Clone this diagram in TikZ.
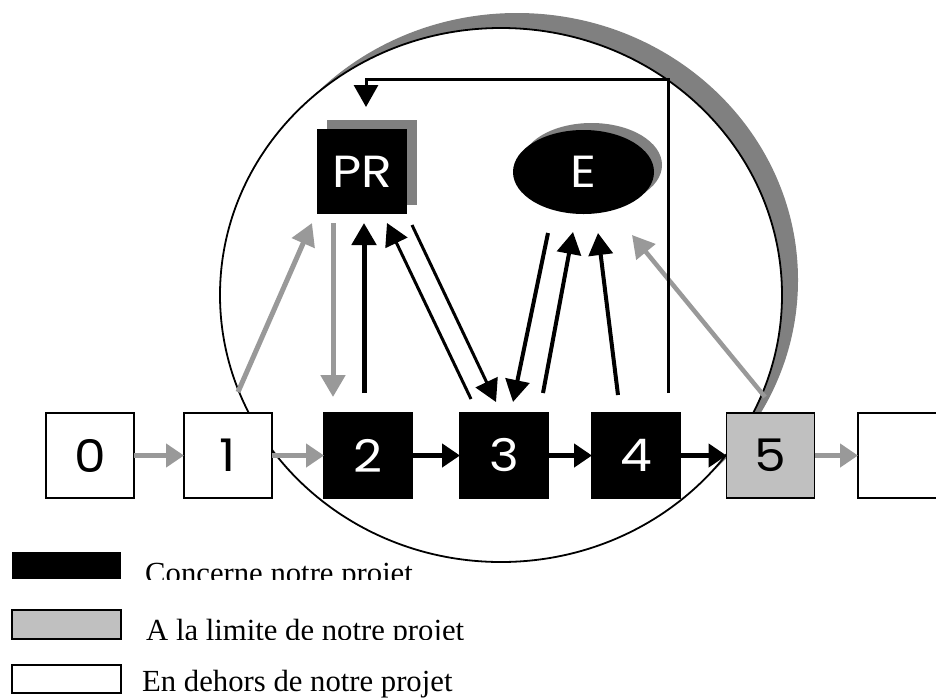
\documentclass[tikz,border=0pt]{standalone}
\usepackage{fontspec}
\usepackage{graphicx}
\setmainfont{Liberation Serif}
\newfontfamily\boxfont{Poppins}
\newcommand\widetxt[1]{\scalebox{1.12}[1]{#1}}
\usetikzlibrary{arrows.meta,shapes.geometric}
\definecolor{shad}{HTML}{808080}
\definecolor{limc}{HTML}{C0C0C0}
\definecolor{garr}{HTML}{999999}
\tikzset{
  boxfnt/.style={font=\boxfont\fontsize{45}{46}\selectfont},
  stepbox/.style={draw=black, line width=1.2pt, minimum width=88pt, minimum height=85pt,
    inner sep=0pt, outer sep=0pt, boxfnt},
  inbox/.style={stepbox, fill=black, text=white},
  limbox/.style={stepbox, fill=limc},
  outbox/.style={stepbox, fill=white},
  rowg/.style={draw=garr, line width=5pt, -{Triangle[length=18pt,width=23pt]}},
  rowb/.style={rowg, draw=black},
  bigg/.style={draw=garr, line width=5pt, -{Triangle[length=22pt,width=24pt]}},
  bigb/.style={bigg, draw=black},
  midb/.style={draw=black, line width=4pt, -{Triangle[length=22pt,width=24pt]}},
  thinb/.style={draw=black, line width=3pt, -{Triangle[length=22pt,width=24pt]}},
  legbox/.style={line width=1.2pt, minimum width=109pt, minimum height=28pt, inner sep=0pt, outer sep=0pt},
  legtext/.style={anchor=base west, inner sep=0pt, font=\fontsize{30.7}{32}\selectfont}
}
\begin{document}
\begin{tikzpicture}[x=1pt,y=-1pt]
\clip (0,0) rectangle (936,697);
\fill[white] (0,0) rectangle (936,697);
% big zone with shadow
\node[ellipse, fill=shad, minimum width=562pt, minimum height=534pt, inner sep=0pt] (zoneshadow) at (517,280) {};
\node[ellipse, draw=black, line width=1.8pt, fill=white, minimum width=562pt, minimum height=534pt, inner sep=0pt] (zone) at (501,295) {};
% PR
\node[fill=shad, minimum width=90pt, minimum height=85pt, inner sep=0pt] (PRs) at (372,162.5) {};
\node[fill=black, text=white, minimum width=90pt, minimum height=85pt, inner sep=0pt, outer sep=0pt,
  boxfnt] (PR) at (362,171.5) {\widetxt{PR}};
% E
\node[ellipse, fill=shad, minimum width=141pt, minimum height=84pt, inner sep=0pt] (Es) at (591.5,165) {};
\node[ellipse, fill=black, text=white, minimum width=141pt, minimum height=84pt, inner sep=0pt, outer sep=0pt,
  boxfnt] (E) at (583.5,172) {\widetxt{E}};
% row of boxes
\node[outbox] (b0) at (90,455.5) {\widetxt{0}};
\node[outbox] (b1) at (228,455.5) {\widetxt{1}};
\node[inbox] (b2) at (368,455.5) {\widetxt{2}};
\node[inbox] (b3) at (504,455.5) {\widetxt{3}};
\node[inbox] (b4) at (636,455.5) {\widetxt{4}};
\node[limbox] (b5) at (770.5,455.5) {\widetxt{5}};
\node[outbox] (b6) at (902,455.5) {};
% row arrows
\draw[rowg] (b0.east) -- (b1.west);
\draw[rowg] (b1.east) -- (b2.west);
\draw[rowb] (b2.east) -- (b3.west);
\draw[rowb] (b3.east) -- (b4.west);
\draw[rowb] (b4.east) -- (b5.west);
\draw[rowg] (b5.east) -- (b6.west);
% arrows to/from PR
\draw[bigg] ([xshift=10pt,yshift=21pt]b1.north) -- ([xshift=-50pt,yshift=-9pt]PR.south);
\draw[bigg] ([xshift=-29pt,yshift=-9pt]PR.south) -- ([xshift=-35pt,yshift=16pt]b2.north);
\draw[bigb] ([xshift=-4pt,yshift=20pt]b2.north) -- ([xshift=2pt,yshift=-9pt]PR.south);
\draw[thinb] ([xshift=-33pt,yshift=14pt]b3.north) -- ([xshift=25pt,yshift=-9pt]PR.south);
\draw[thinb] ([xshift=50pt,yshift=-11pt]PR.south) -- ([xshift=-8pt,yshift=11pt]b3.north);
% arrows to/from E
\draw[midb] ([xshift=-35.5pt,yshift=-19pt]E.south) -- ([xshift=9pt,yshift=11pt]b3.north);
\draw[midb] ([xshift=39pt,yshift=20pt]b3.north) -- ([xshift=-10.5pt,yshift=-18pt]E.south);
\draw[midb] ([xshift=-18pt,yshift=18pt]b4.north) -- ([xshift=14.5pt,yshift=-19pt]E.south);
\draw[draw=garr, line width=4.5pt, -{Triangle[length=22pt,width=24pt]}]
  ([xshift=-5.5pt,yshift=16pt]b5.north) -- ([xshift=48.5pt,yshift=-21pt]E.south);
% feedback from 4 to PR
\draw[thinb, line join=miter] ([xshift=32pt,yshift=20pt]b4.north) -- ++(0,-314) -| ([xshift=4pt,yshift=22pt]PR.north);
% legend
\node[legbox, fill=black, minimum height=27pt] (lg1) at (66.5,565.5) {};
\node[legbox, draw=black, fill=limc, minimum height=29pt] (lg2) at (66.5,624.5) {};
\node[legbox, draw=black, fill=white, minimum height=28pt] (lg3) at (66.5,679) {};
\begin{scope}
  \clip (130,550) rectangle (480,579.5);
  \node[legtext] (t1) at (145,583.5) {Concerne notre projet};
\end{scope}
\begin{scope}
  \clip (130,600) rectangle (480,639);
  \node[legtext] (t2) at (146,640.5) {A la limite de notre projet};
\end{scope}
\node[legtext] (t3) at (142,691) {En dehors de notre projet};
\end{tikzpicture}
\end{document}
